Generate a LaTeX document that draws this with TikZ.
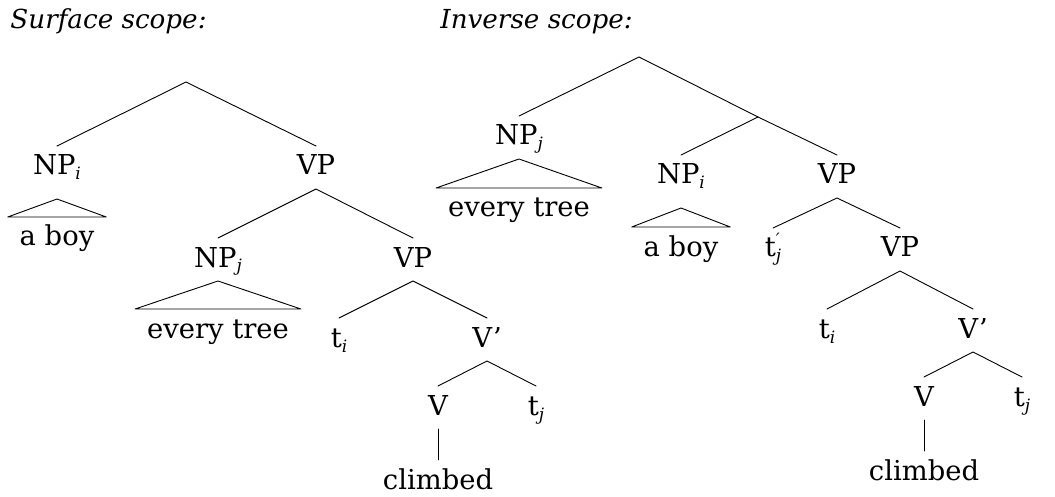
\documentclass[tikz,border=0pt]{standalone}
\usepackage{fontspec}
\setmainfont{DejaVu Serif}
\usepackage{tikz}
\usetikzlibrary{calc}
\newcommand{\idx}[1]{\raisebox{-5pt}{\fontsize{17}{17}\selectfont\itshape #1}}
\newcommand{\idxprime}[1]{\rlap{\raisebox{11pt}{\fontsize{17}{17}\selectfont\itshape ′}}\idx{#1}}

\begin{document}
\begin{tikzpicture}[x=1pt,y=-1pt,line cap=round,line join=round,line width=0.9pt,
  font=\fontsize{27.4}{33}\selectfont,
  cat/.style={anchor=base,inner sep=0pt,outer xsep=0pt,outer ysep=9pt,text height=20pt,text depth=5pt},
  title/.style={anchor=base west,inner sep=0pt,font=\fontsize{26.2}{33}\selectfont\itshape}]
\useasboundingbox (0,0) rectangle (1055,497);
% titles
\node[title] (tsurf) at (10,29) {Surface scope:};
\node[title] (tinv) at (440,29) {Inverse scope:};
% surface scope tree
\coordinate (r1) at (186,82);
\node[cat] (npi1) at (57,175) {NP\idx{i}};
\node[cat] (vp1) at (316,175) {VP};
\node[cat] (boy1) at (57,246) {a boy};
\node[cat] (npj1) at (218,267) {NP\idx{j}};
\node[cat] (vp2) at (413,267) {VP};
\node[cat] (tree1) at (218,338) {every tree};
\node[cat] (ti1) at (339,347) {t\idx{i}};
\node[cat] (vbar1) at (487,347) {V'};
\node[cat] (v1) at (438,415) {V};
\node[cat] (tj1) at (536,415) {t\idx{j}};
\node[cat] (climbed1) at (438,489) {climbed};
\draw (npi1.north) -- (r1) -- (vp1.north);
\draw (npj1.north) -- (vp1.south) -- (vp2.north);
\draw (ti1.north) -- (vp2.south) -- (vbar1.north);
\draw (v1.north) -- (vbar1.south) -- (tj1.north);
\draw (v1.south) -- (climbed1.north);
\draw ($(npi1.south)+(0,10)$) -- ($(boy1.north west)+(-12,0)$) -- ($(boy1.north east)+(12,0)$) -- cycle;
\draw (npj1.south) -- ($(tree1.north west)+(-12,0)$) -- ($(tree1.north east)+(12,0)$) -- cycle;
% inverse scope tree
\coordinate (r2) at (639,57);
\coordinate (x2) at (758,117);
\node[cat] (npj2) at (519,145) {NP\idx{j}};
\node[cat] (tree2) at (519,217) {every tree};
\node[cat] (npi2) at (681,184) {NP\idx{i}};
\node[cat] (boy2) at (681,256) {a boy};
\node[cat] (vp3) at (837,184) {VP};
\node[cat] (tj2a) at (773,257) {t\idxprime{j}};
\node[cat] (vp4) at (900,257) {VP};
\node[cat] (ti2) at (827,338) {t\idx{i}};
\node[cat] (vbar2) at (973,338) {V'};
\node[cat] (v2) at (924,406) {V};
\node[cat] (tj2) at (1022,406) {t\idx{j}};
\node[cat] (climbed2) at (924,480) {climbed};
\draw (npj2.north) -- (r2) -- (x2) -- (vp3.north);
\draw (npi2.north) -- (x2);
\draw (tj2a.north) -- (vp3.south) -- (vp4.north);
\draw (ti2.north) -- (vp4.south) -- (vbar2.north);
\draw (v2.north) -- (vbar2.south) -- (tj2.north);
\draw (v2.south) -- (climbed2.north);
\draw (npj2.south) -- ($(tree2.north west)+(-12,0)$) -- ($(tree2.north east)+(12,0)$) -- cycle;
\draw ($(npi2.south)+(0,10)$) -- ($(boy2.north west)+(-12,0)$) -- ($(boy2.north east)+(12,0)$) -- cycle;
\end{tikzpicture}
\end{document}
